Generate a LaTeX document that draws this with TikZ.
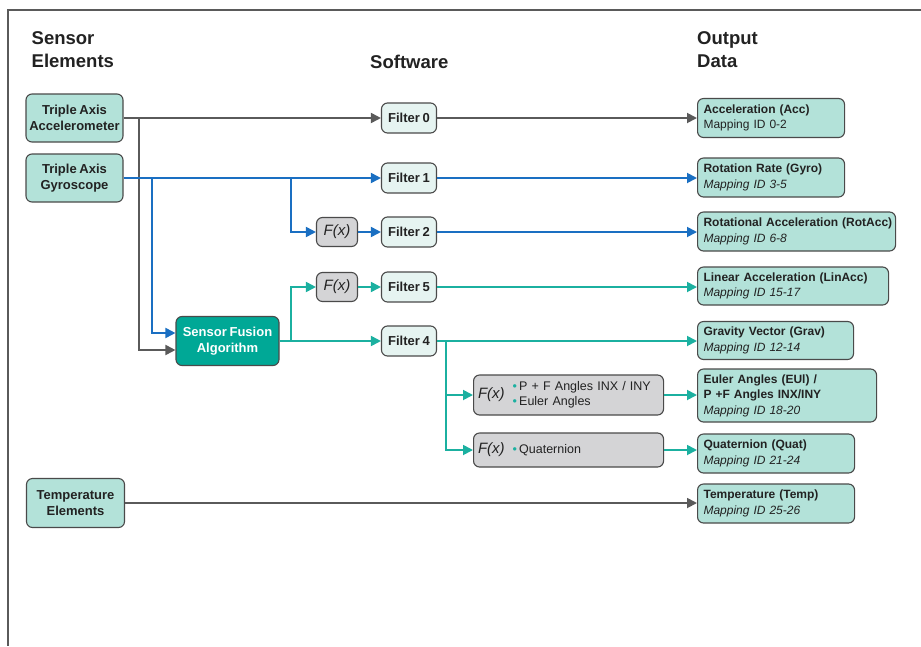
\documentclass[tikz,border=0pt]{standalone}
\usepackage{fontspec}
\setmainfont{Liberation Sans}[WordSpace=0.75]
\usetikzlibrary{arrows.meta,calc}
\definecolor{boxfill}{HTML}{B3E2D9}
\definecolor{filtfill}{HTML}{E6F4F1}
\definecolor{fxfill}{HTML}{D4D4D6}
\definecolor{fusfill}{HTML}{00A896}
\definecolor{bord}{HTML}{4A4A4A}
\definecolor{cblue}{HTML}{1A6FC2}
\definecolor{cteal}{HTML}{1BB0A0}
\definecolor{cgray}{HTML}{5A5A5A}
\definecolor{txt}{HTML}{222222}
\newcommand{\outtxt}[2]{\mbox{\bfseries #1}\\\mbox{\itshape #2}}
\begin{document}
\begin{tikzpicture}[x=1pt,y=-1pt,
  base/.style={draw=bord, line width=1.1pt, rounded corners=6pt, text=txt, inner sep=0pt},
  srcbox/.style={base, fill=boxfill, minimum width=97pt, minimum height=48pt, align=center, font=\fontsize{13}{16}\selectfont\bfseries},
  filt/.style={base, fill=filtfill, minimum width=55pt, minimum height=30pt, font=\fontsize{13}{16}\selectfont\bfseries},
  fx/.style={base, fill=fxfill, minimum width=41pt, minimum height=29pt, font=\fontsize{15}{16}\selectfont\itshape},
  fxwide/.style={base, fill=fxfill, minimum width=190pt, text width=181pt, inner xsep=4.5pt, align=left, anchor=west, font=\fontsize{12.5}{15}\selectfont},
  fusbox/.style={base, fill=fusfill, text=white, minimum width=103pt, minimum height=49pt, align=center, font=\fontsize{13}{16}\selectfont\bfseries},
  outbox/.style={base, fill=boxfill, anchor=west, inner xsep=6pt, align=left, font=\fontsize{12}{15.5}\selectfont},
  title/.style={anchor=north west, align=left, inner sep=0pt, text=txt, font=\fontsize{18.5}{23}\selectfont\bfseries},
  conn/.style={line width=1.8pt, -{Triangle[length=10pt,width=10pt]}},
]
\useasboundingbox (0,0) rectangle (921,646);
\draw[cgray, line width=1.2pt] (921,10) -- (8,10) -- (8,646);

% titles
\node[title] (tsens) at (31.5,31.5) {Sensor\\Elements};
\node[title] (tsoft) at (370,54.5) {Software};
\node[title] (tout) at (697,31.5) {Output\\Data};

% sources
\node[srcbox] (acc) at (74.5,118) {Triple Axis\\Accelerometer};
\node[srcbox] (gyro) at (74.5,178) {Triple Axis\\Gyroscope};
\node[srcbox, minimum width=98pt, minimum height=49pt] (temp) at (75.5,503) {Temperature\\Elements};

% software
\node[filt] (f0) at (409,118) {Filter 0};
\node[filt] (f1) at (409,178) {Filter 1};
\node[filt] (f2) at (409,232) {Filter 2};
\node[filt] (f5) at (409,287) {Filter 5};
\node[filt] (f4) at (409,341) {Filter 4};
\node[fx] (fx1) at (337,232) {F(x)};
\node[fx] (fx2) at (337,287) {F(x)};
\node[fusbox] (fus) at (227.5,341) {Sensor Fusion\\Algorithm};
\node[fxwide, minimum height=40pt] (fxe) at (473,395) {{\fontsize{15}{15}\selectfont\itshape F(x)}\hspace{8pt}\begin{tabular}[c]{@{}l@{}}{\color{cteal}\textbullet}\,P + F Angles INX / INY\\{\color{cteal}\textbullet}\,Euler Angles\end{tabular}};
\node[fxwide, minimum height=34pt] (fxq) at (473,450) {{\fontsize{15}{15}\selectfont\itshape F(x)}\hspace{8pt}{\color{cteal}\textbullet}\,Quaternion};

% outputs
\node[outbox, minimum width=147pt, text width=135pt, minimum height=39pt] (oacc) at (697,118) {\mbox{\bfseries Acceleration (Acc)}\\\mbox{Mapping ID 0-2}};
\node[outbox, minimum width=147pt, text width=135pt, minimum height=39pt] (orot) at (697,177.5) {\outtxt{Rotation Rate (Gyro)}{Mapping ID 3-5}};
\node[outbox, minimum width=198pt, text width=186pt, minimum height=39pt] (orotacc) at (697,231.5) {\outtxt{Rotational Acceleration (RotAcc)}{Mapping ID 6-8}};
\node[outbox, minimum width=191pt, text width=179pt, minimum height=38pt] (olin) at (697,286) {\outtxt{Linear Acceleration (LinAcc)}{Mapping ID 15-17}};
\node[outbox, minimum width=156pt, text width=144pt, minimum height=38pt] (ograv) at (697,340.5) {\outtxt{Gravity Vector (Grav)}{Mapping ID 12-14}};
\node[outbox, minimum width=179pt, text width=167pt, minimum height=53pt] (oeul) at (697,395.5) {\mbox{\bfseries Euler Angles (EUl) /}\\\outtxt{P +F Angles INX/INY}{Mapping ID 18-20}};
\node[outbox, minimum width=157pt, text width=145pt, minimum height=39pt] (oquat) at (697,453.5) {\outtxt{Quaternion (Quat)}{Mapping ID 21-24}};
\node[outbox, minimum width=157pt, text width=145pt, minimum height=39pt] (otemp) at (697,503.5) {\outtxt{Temperature (Temp)}{Mapping ID 25-26}};

% branch points
\coordinate (gb) at (139,118);
\coordinate (bb1) at (152,178);
\coordinate (bb2) at (291,178);
\coordinate (tb1) at (291,341);
\coordinate (tb2) at (446,341);

% gray connectors
\draw[conn, cgray] (acc.east) -- (f0.west);
\draw[conn, cgray] (f0.east) -- (f0.east -| oacc.west);
\draw[conn, cgray] (gb) |- ([yshift=-9pt]fus.west);
\draw[conn, cgray] (temp.east) -- (temp.east -| otemp.west);

% blue connectors
\draw[conn, cblue] (gyro.east) -- (f1.west);
\draw[conn, cblue] (bb1) |- ([yshift=8pt]fus.west);
\draw[conn, cblue] (bb2) |- (fx1.west);
\draw[conn, cblue] (fx1.east) -- (f2.west);
\draw[conn, cblue] (f1.east) -- (f1.east -| orot.west);
\draw[conn, cblue] (f2.east) -- (f2.east -| orotacc.west);

% teal connectors
\draw[conn, cteal] (fus.east) -- (f4.west);
\draw[conn, cteal] (tb1) |- (fx2.west);
\draw[conn, cteal] (fx2.east) -- (f5.west);
\draw[conn, cteal] (f5.east) -- (f5.east -| olin.west);
\draw[conn, cteal] (f4.east) -- (f4.east -| ograv.west);
\draw[conn, cteal] (tb2) |- (fxe.west);
\draw[conn, cteal] (tb2) |- (fxq.west);
\draw[conn, cteal] (fxe.east) -- (fxe.east -| oeul.west);
\draw[conn, cteal] (fxq.east) -- (fxq.east -| oquat.west);
\end{tikzpicture}
\end{document}
